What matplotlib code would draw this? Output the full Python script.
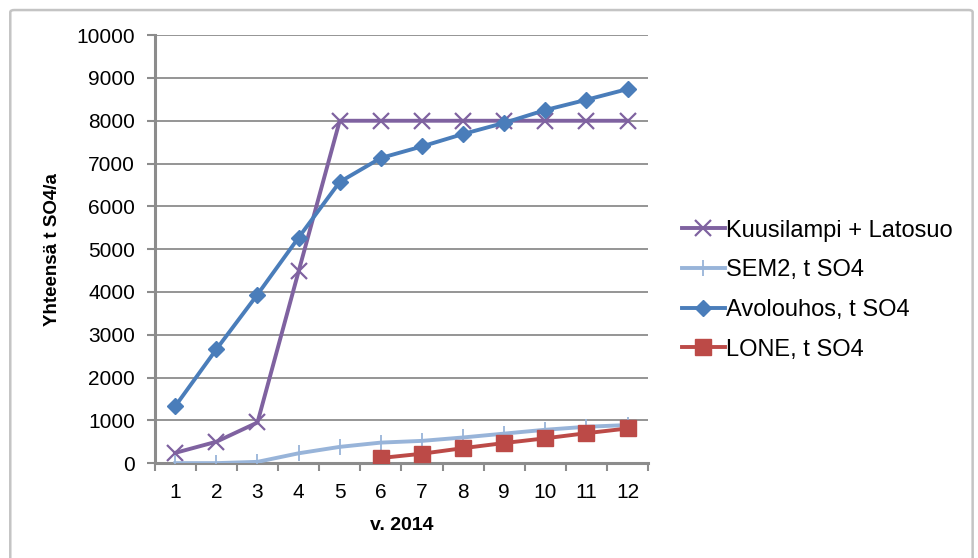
import matplotlib
matplotlib.use("Agg")
import matplotlib.pyplot as plt
from matplotlib.patches import FancyBboxPatch
import numpy as np

plt.rcParams['font.family'] = ['Liberation Sans', 'DejaVu Sans']

months = [1, 2, 3, 4, 5, 6, 7, 8, 9, 10, 11, 12]
kuusilampi = [240, 500, 950, 4480, 8000, 8000, 8000, 8000, 8000, 8000, 8000, 8000]
sem2 = [0, 0, 30, 230, 380, 480, 520, 600, 690, 780, 850, 890]
avolouhos = [1330, 2660, 3940, 5270, 6570, 7130, 7400, 7690, 7950, 8250, 8490, 8740]
lone_months = [6, 7, 8, 9, 10, 11, 12]
lone = [120, 220, 350, 470, 580, 700, 810]
yticks = list(range(0, 10001, 1000))

fig = plt.figure(figsize=(9.79, 5.58), dpi=100)
# chart frame, open at the bottom edge of the image
frame = FancyBboxPatch((0.0105, -0.05), 0.983, 1.032, boxstyle="round,pad=0,rounding_size=0.004",
                       transform=fig.transFigure, facecolor='white', edgecolor='#c4c4c4',
                       lw=1.8, zorder=-10)
fig.patches.append(frame)

ax = fig.add_axes([0.158, 0.170, 0.504, 0.767])
ax.patch.set_alpha(0)
x = np.arange(len(months))
xl = np.array(lone_months) - 1

ax.plot(x, kuusilampi, color='#7F62A0', lw=2.8, marker='x', ms=11, mew=1.6,
        label='Kuusilampi + Latosuo', zorder=3)
ax.plot(x, sem2, color='#98B4D9', lw=2.8, marker='|', ms=11, mew=1.3,
        label='SEM2, t SO4', zorder=3)
ax.plot(x, avolouhos, color='#4A7DBA', lw=2.8, marker='D', ms=8.5,
        label='Avolouhos, t SO4', zorder=4)
ax.plot(xl, lone, color='#BC4A47', lw=2.8, marker='s', ms=11,
        label='LONE, t SO4', zorder=5)

ax.set_xlim(-0.5, len(months) - 0.5)
ax.set_ylim(0, 10000)
ax.set_yticks(yticks)
ax.set_yticklabels([str(v) for v in yticks], fontsize=15)
ax.set_xticks(x)
ax.set_xticklabels([str(m) for m in months], fontsize=15)
ax.set_xticks(np.arange(-0.5, len(months), 1), minor=True)
ax.tick_params(axis='x', which='major', length=0, pad=14)
ax.tick_params(axis='x', which='minor', length=6, width=1.5, color='#8c8c8c')
ax.tick_params(axis='y', length=6, width=1.5, color='#8c8c8c', pad=8)
ax.grid(axis='y', color='#8c8c8c', lw=1.3)
ax.set_axisbelow(True)
for s in ['top', 'right']:
    ax.spines[s].set_visible(False)
for s in ['left', 'bottom']:
    ax.spines[s].set_color('#8c8c8c')
    ax.spines[s].set_linewidth(2.2)

ax.set_ylabel('Yhteensä t SO4/a', fontsize=13.5, fontweight='bold', labelpad=11)
ax.set_xlabel('v. 2014', fontsize=14, fontweight='bold', labelpad=11)

fig.legend(loc='center left', bbox_to_anchor=(0.687, 0.48), frameon=False, fontsize=17,
           handlelength=1.8, handletextpad=0.05, labelspacing=0.75, borderaxespad=0)

fig.savefig('out.png', dpi=100)
